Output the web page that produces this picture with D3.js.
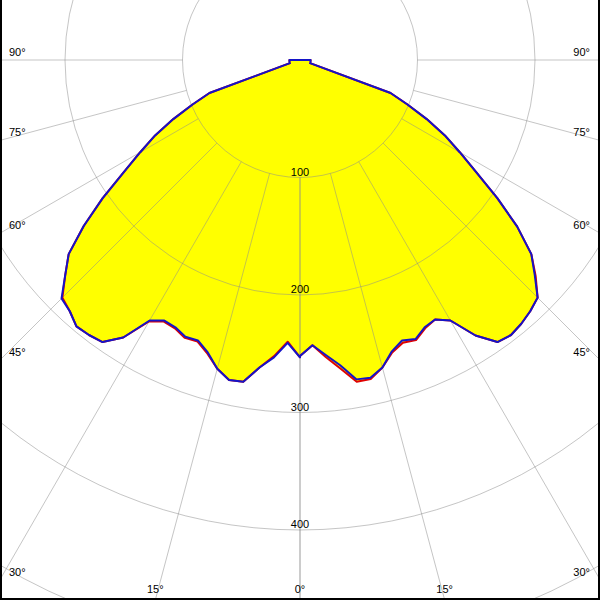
<!DOCTYPE html>
<html><head><meta charset="utf-8">
<script src="https://cdn.jsdelivr.net/npm/d3@7/dist/d3.min.js"></script>
<style>body{margin:0;background:#fff}svg{display:block}</style>
</head><body><svg id="c" width="600" height="600"></svg>
<script>
// Gamma angles (deg from nadir) and luminous intensity (cd/klm) per C-plane
const gamma = [0,2.5,5,7.5,10,12.5,15,17.5,20,22.5,25,27.5,30,32.5,35,37.5,40,42.5,45,47.5,50,52.5,55,57.5,60,62.5,65,67.5,70,72.5,75,77.5,80,82.5,85,87.5,90];
// C0 (red, right half)
const c0   = [252,243,254,265,278,278,271,261,256,258,252,249,256,278,293,295,293,290,286,272,257,233,205,178,157,139,119,99,82,9,9,9,9,9,9,9,9];
// C180 (red, left half)
const c180 = [253,240,253,264,278,279,272,262,255,256,252,251,257,280,293,295,296,290,286,271,257,232,205,178,157,139,119,99,82,9,9,9,9,9,9,9,9];
// C90 (blue, right half)
const c90  = [252,243,252,262,276,277,271,260,254,257,251,249,256,278,293,295,293,290,286,271,257,233,205,178,157,139,119,99,82,9,9,9,9,9,9,9,9];
// C270 (blue, left half)
const c270 = [253,241,254,264,278,279,272,261,254,255,251,250,256,280,293,295,296,290,287,271,257,232,205,178,157,139,119,99,82,9,9,9,9,9,9,9,9];
const radialTicks = [100,200,300,400,500];
const radialLabels = ["100","200","300","400"];
const angleTicks = [0,15,30,45,60,75,90];

const W = 600, H = 600, cx = 300, cy = 60;
const rScale = d3.scaleLinear().domain([0, 500]).range([0, 587.5]);
const rad = d => d * Math.PI / 180;

const svg = d3.select('#c');
const g = svg.append('g').attr('transform', `translate(${cx},${cy})`);

const radial = d3.lineRadial().angle(d => d.a).radius(d => rScale(d.v)).curve(d3.curveLinearClosed);
function pts(left, right) {
  const p = [];
  for (let i = gamma.length - 1; i >= 0; i--) p.push({a: Math.PI + rad(gamma[i]), v: left[i]});
  for (let i = 0; i < gamma.length; i++) p.push({a: Math.PI - rad(gamma[i]), v: right[i]});
  return p;
}
const redPts = pts(c180, c0), bluePts = pts(c270, c90);

// fill
g.append('path').attr('d', radial(redPts)).attr('fill', '#ffff00');
g.append('path').attr('d', radial(bluePts)).attr('fill', '#ffff00');

// grid
const grid = g.append('g').attr('stroke', '#8c8c8c').attr('stroke-opacity', 0.5).attr('fill', 'none').attr('stroke-width', 1);
radialTicks.forEach(v => grid.append('circle').attr('r', rScale(v)));
const rayLine = d3.lineRadial().angle(d => d.a).radius(d => d.r);
angleTicks.forEach(t => {
  [1, -1].forEach(s => {
    const a = Math.PI - s * rad(t);
    grid.append('path').attr('d', rayLine([{a, r: rScale(100)}, {a, r: rScale(1000)}]));
  });
});

// curves
g.append('path').attr('d', radial(redPts)).attr('fill', 'none').attr('stroke', '#e00000').attr('stroke-width', 2).attr('stroke-linejoin', 'round');
g.append('path').attr('d', radial(bluePts)).attr('fill', 'none').attr('stroke', '#1414c8').attr('stroke-width', 2).attr('stroke-linejoin', 'round');

// labels
const font = "'Liberation Sans', Arial, sans-serif";
radialLabels.forEach((lab, i) => {
  svg.append('text').attr('x', cx).attr('y', cy + rScale(radialTicks[i]) - 2)
    .attr('text-anchor', 'middle').attr('font-family', font).attr('font-size', 11).attr('fill', '#000').text(lab);
});
angleTicks.forEach(t => {
  const sides = t === 0 ? [1] : [-1, 1];
  sides.forEach(s => {
    const sx = Math.sin(rad(t)), cyv = Math.cos(rad(t));
    const tSide = sx > 1e-9 ? (s < 0 ? cx : W - cx) / sx : Infinity;
    const tBot = cyv > 1e-9 ? (H - cy) / cyv : Infinity;
    const txt = svg.append('text').attr('font-family', font).attr('font-size', 11).attr('fill', '#000').text(t + '°');
    if (tSide < tBot) {
      const y = cy + tSide * cyv - 4;
      txt.attr('x', s < 0 ? 9 : 590).attr('y', y).attr('text-anchor', s < 0 ? 'start' : 'end');
    } else {
      const x = cx + s * tBot * sx;
      txt.attr('x', x).attr('y', 593).attr('text-anchor', 'middle');
    }
  });
});

// frame (left, right, bottom)
const frame = svg.append('g').attr('stroke', '#000').attr('stroke-width', 2);
frame.append('line').attr('x1', 1).attr('y1', 0).attr('x2', 1).attr('y2', H);
frame.append('line').attr('x1', W - 1).attr('y1', 0).attr('x2', W - 1).attr('y2', H);
frame.append('line').attr('x1', 0).attr('y1', H - 1).attr('x2', W).attr('y2', H - 1);
</script></body></html>
